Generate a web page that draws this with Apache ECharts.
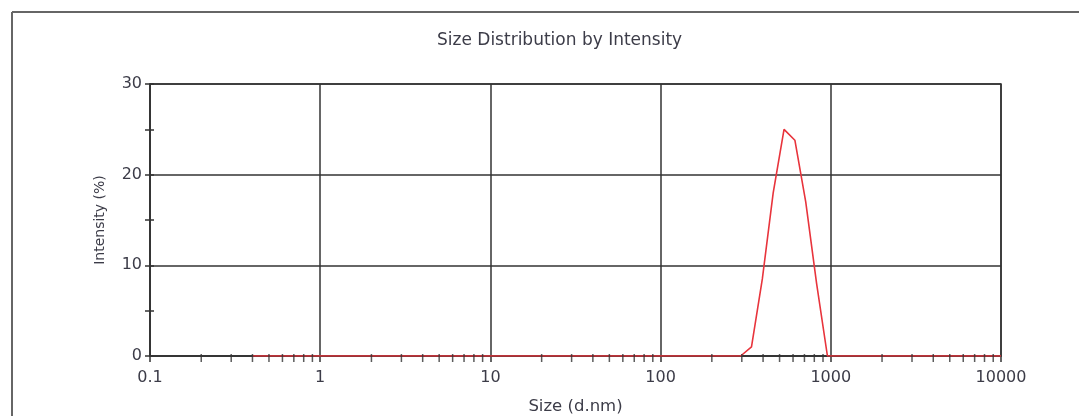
<!DOCTYPE html>
<html>
<head>
<meta charset="utf-8">
<script src="https://cdn.jsdelivr.net/npm/echarts@6/dist/echarts.min.js"></script>
<style>html,body{margin:0;padding:0;background:#fff;}#c{width:1079px;height:416px;}</style>
</head>
<body>
<div id="c"></div>
<script>
// Size bins (d.nm)
var sizes = [0.4, 0.4632, 0.5365, 0.6213, 0.7195, 0.8332, 0.9649, 1.117, 1.294, 1.499,
  1.736, 2.01, 2.328, 2.696, 3.122, 3.615, 4.187, 4.849, 5.615, 6.503,
  7.531, 8.721, 10.1, 11.7, 13.54, 15.69, 18.17, 21.04, 24.36, 28.21,
  32.67, 37.84, 43.82, 50.75, 58.77, 68.06, 78.82, 91.28, 105.7, 122.4,
  141.8, 164.2, 190.1, 220.2, 255, 295.3, 342, 396.1, 458.7, 531.2,
  615.1, 712.4, 825, 955.4, 1106, 1281, 1484, 1718, 1990, 2305,
  2669, 3091, 3580, 4145, 4801, 5560, 6439, 7456, 8635, 10000];
// Intensity (%)
var intensity = [0, 0, 0, 0, 0, 0, 0, 0, 0, 0,
  0, 0, 0, 0, 0, 0, 0, 0, 0, 0,
  0, 0, 0, 0, 0, 0, 0, 0, 0, 0,
  0, 0, 0, 0, 0, 0, 0, 0, 0, 0,
  0, 0, 0, 0, 0, 0, 1.0, 8.5, 18.0, 25.0,
  23.8, 17.0, 8.0, 0, 0, 0, 0, 0, 0, 0,
  0, 0, 0, 0, 0, 0, 0, 0, 0, 0];
// Minor tick positions on the log x axis
var xMinorTicks = [0.2, 0.3, 0.4, 0.5, 0.6, 0.7, 0.8, 0.9,
  2, 3, 4, 5, 6, 7, 8, 9,
  20, 30, 40, 50, 60, 70, 80, 90,
  200, 300, 400, 500, 600, 700, 800, 900,
  2000, 3000, 4000, 5000, 6000, 7000, 8000, 9000];
var xMin = 0.1, xMax = 10000;
var yMin = 0, yMax = 30, yInterval = 10;

var FONT = 'DejaVu Sans';
var TXT = '#3c3c48';
var AX = '#333';

var lineData = sizes.map(function (s, i) { return [s, intensity[i]]; });
var tickData = xMinorTicks.map(function (v) { return [v, 0]; });

var chart = echarts.init(document.getElementById('c'), null, { renderer: 'canvas' });
chart.setOption({
  animation: false,
  backgroundColor: '#fff',
  title: {
    text: 'Size Distribution by Intensity',
    left: 432, top: 27,
    textStyle: { fontFamily: FONT, fontSize: 17, fontWeight: 'normal', color: TXT }
  },
  graphic: [
    { type: 'line', shape: { x1: 12, y1: 12, x2: 1079, y2: 12 }, style: { stroke: '#666', lineWidth: 2 } },
    { type: 'line', shape: { x1: 12, y1: 12, x2: 12, y2: 416 }, style: { stroke: '#666', lineWidth: 2 } }
  ],
  grid: { left: 150, top: 84, right: 78, bottom: 60, outerBoundsMode: 'none', containLabel: false,
    show: true, borderColor: AX, borderWidth: 1.5, backgroundColor: 'transparent' },
  xAxis: {
    type: 'log', logBase: 10, min: xMin, max: xMax,
    name: 'Size (d.nm)', nameLocation: 'middle', nameGap: 42,
    nameTextStyle: { fontFamily: FONT, fontSize: 16.5, color: TXT },
    axisLine: { lineStyle: { color: AX, width: 1.5 } },
    axisTick: { show: true, length: 6, lineStyle: { color: AX, width: 1.5 } },
    minorTick: { show: false },
    axisLabel: { fontFamily: FONT, fontSize: 16, color: TXT, margin: 14,
      formatter: function (v) { return String(+v.toPrecision(6)); } },
    splitLine: { show: true, lineStyle: { color: AX, width: 1.5 } }
  },
  yAxis: [{
    type: 'value', min: yMin, max: yMax, interval: yInterval, position: 'left',
    name: 'Intensity (%)', nameLocation: 'middle', nameGap: 43, nameRotate: 90,
    nameTextStyle: { fontFamily: FONT, fontSize: 14, color: TXT },
    axisLine: { show: true, lineStyle: { color: AX, width: 1.5 } },
    axisTick: { show: true, length: 5, lineStyle: { color: AX, width: 1.5 } },
    minorTick: { show: true, splitNumber: 2, length: 5, lineStyle: { color: AX, width: 1.5 } },
    axisLabel: { fontFamily: FONT, fontSize: 16, color: TXT, margin: 8 },
    splitLine: { show: true, lineStyle: { color: AX, width: 1.5 } },
    minorSplitLine: { show: false }
  }, {
    type: 'value', min: yMin, max: yMax, interval: yInterval, position: 'left',
    axisLine: { show: false },
    axisTick: { show: true, inside: true, length: 4, lineStyle: { color: AX, width: 1.5 } },
    minorTick: { show: true, splitNumber: 2, length: 4, lineStyle: { color: AX, width: 1.5 } },
    axisLabel: { show: false },
    splitLine: { show: false }
  }],
  series: [{
    type: 'line', data: lineData, yAxisIndex: 0,
    showSymbol: false, symbol: 'none', smooth: false, z: 3,
    lineStyle: { color: '#e8343c', width: 1.6 }
  }, {
    type: 'scatter', data: tickData, yAxisIndex: 0, clip: false, silent: true, z: 4,
    symbol: 'rect', symbolSize: [1.5, 8], symbolOffset: [0, 2],
    itemStyle: { color: AX }
  }]
});
</script>
</body>
</html>
